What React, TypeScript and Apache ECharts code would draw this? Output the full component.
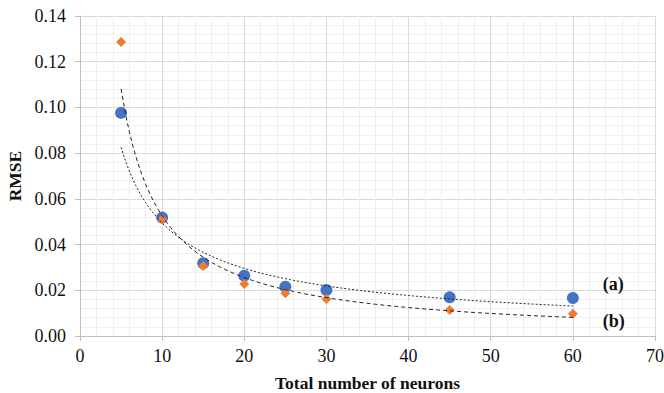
import React, { useEffect, useRef } from "react";
import * as echarts from "echarts";

const neurons = [5, 10, 15, 20, 25, 30, 45, 60];
const rmseA = [0.0976, 0.0518, 0.0318, 0.0264, 0.0216, 0.0201, 0.0169, 0.0166];
const rmseB = [0.1286, 0.051, 0.0306, 0.0228, 0.0187, 0.0162, 0.0114, 0.0097];
const xTicks = [0, 10, 20, 30, 40, 50, 60, 70];
const yTicks = [0, 0.02, 0.04, 0.06, 0.08, 0.1, 0.12, 0.14];
const labelA = "(a)";
const labelB = "(b)";

function powerFit(xs: number[], ys: number[]) {
  const lx = xs.map(Math.log);
  const ly = ys.map(Math.log);
  const n = xs.length;
  const mx = lx.reduce((s, v) => s + v, 0) / n;
  const my = ly.reduce((s, v) => s + v, 0) / n;
  let sxy = 0, sxx = 0;
  for (let i = 0; i < n; i++) {
    sxy += (lx[i] - mx) * (ly[i] - my);
    sxx += (lx[i] - mx) * (lx[i] - mx);
  }
  const b = sxy / sxx;
  const a = Math.exp(my - b * mx);
  return (x: number) => a * Math.pow(x, b);
}

function trend(xs: number[], ys: number[]) {
  const f = powerFit(xs, ys);
  const x0 = xs[0];
  const x1 = xs[xs.length - 1];
  const pts: number[][] = [];
  const steps = 110;
  for (let i = 0; i <= steps; i++) {
    const x = x0 + ((x1 - x0) * i) / steps;
    pts.push([x, f(x)]);
  }
  return pts;
}

const FONT = "Liberation Serif";
const TXT = "#111";

export default function App() {
  const ref = useRef<HTMLDivElement>(null);
  useEffect(() => {
    if (!ref.current) return;
    const chart = echarts.init(ref.current, undefined, { renderer: "svg" });
    const last = neurons.length - 1;
    const pointLabel = (text: string, offset: number[]) => ({
      show: true,
      formatter: text,
      position: "right",
      offset,
      fontFamily: FONT,
      fontSize: 18,
      fontWeight: "bold",
      color: TXT,
    });
    chart.setOption({
      animation: false,
      grid: {
        left: 80,
        right: 9,
        top: 16,
        bottom: 57,
        containLabel: false,
        outerBoundsMode: "none",
      },
      xAxis: {
        type: "value",
        min: xTicks[0],
        max: xTicks[xTicks.length - 1],
        interval: 10,
        name: "Total number of neurons",
        nameLocation: "middle",
        nameGap: 38,
        nameTextStyle: { fontFamily: FONT, fontSize: 17.5, fontWeight: "bold", color: TXT },
        axisLine: { show: true, lineStyle: { color: "#bfbfbf", width: 1 } },
        axisTick: { show: true, length: 5, lineStyle: { color: "#bfbfbf" } },
        axisLabel: { fontFamily: FONT, fontSize: 18, color: TXT, margin: 11 },
        splitLine: { show: true, lineStyle: { color: "#d9d9d9", width: 1 } },
        minorTick: { show: false, splitNumber: 5 },
        minorSplitLine: { show: true, lineStyle: { color: "#efefef", width: 1 } },
      },
      yAxis: {
        type: "value",
        min: yTicks[0],
        max: yTicks[yTicks.length - 1],
        interval: 0.02,
        name: "RMSE",
        nameLocation: "middle",
        nameGap: 55,
        nameTextStyle: { fontFamily: FONT, fontSize: 17.5, fontWeight: "bold", color: TXT },
        axisLine: { show: true, lineStyle: { color: "#bfbfbf", width: 1 } },
        axisTick: { show: true, length: 5, lineStyle: { color: "#bfbfbf" } },
        axisLabel: {
          fontFamily: FONT,
          fontSize: 18,
          color: TXT,
          margin: 14,
          formatter: (v: number) => v.toFixed(2),
        },
        splitLine: { show: true, lineStyle: { color: "#d9d9d9", width: 1 } },
        minorTick: { show: false, splitNumber: 5 },
        minorSplitLine: { show: true, lineStyle: { color: "#efefef", width: 1 } },
      },
      series: [
        {
          type: "scatter",
          name: "a",
          symbol: "circle",
          symbolSize: 12,
          itemStyle: { color: "#4472C4", opacity: 1 },
          data: neurons.map((x, i) =>
            i === last
              ? { value: [x, rmseA[i]], label: pointLabel(labelA, [19, -14]) }
              : [x, rmseA[i]]
          ),
          z: 2,
        },
        {
          type: "scatter",
          name: "b",
          symbol: "diamond",
          symbolSize: [10, 10],
          itemStyle: { color: "#ED7D31", opacity: 1 },
          data: neurons.map((x, i) =>
            i === last
              ? { value: [x, rmseB[i]], label: pointLabel(labelB, [20, 7]) }
              : [x, rmseB[i]]
          ),
          z: 3,
        },
        {
          type: "line",
          name: "trend a",
          data: trend(neurons, rmseA),
          showSymbol: false,
          symbol: "none",
          lineStyle: { color: "#222", width: 1, type: [2, 2] },
          z: 4,
          silent: true,
        },
        {
          type: "line",
          name: "trend b",
          data: trend(neurons, rmseB),
          showSymbol: false,
          symbol: "none",
          lineStyle: { color: "#222", width: 1, type: [4, 3] },
          z: 4,
          silent: true,
        },
      ],
    });
    return () => chart.dispose();
  }, []);
  return <div ref={ref} style={{ width: 664, height: 393, position: "absolute", left: 0, top: 0 }} />;
}
